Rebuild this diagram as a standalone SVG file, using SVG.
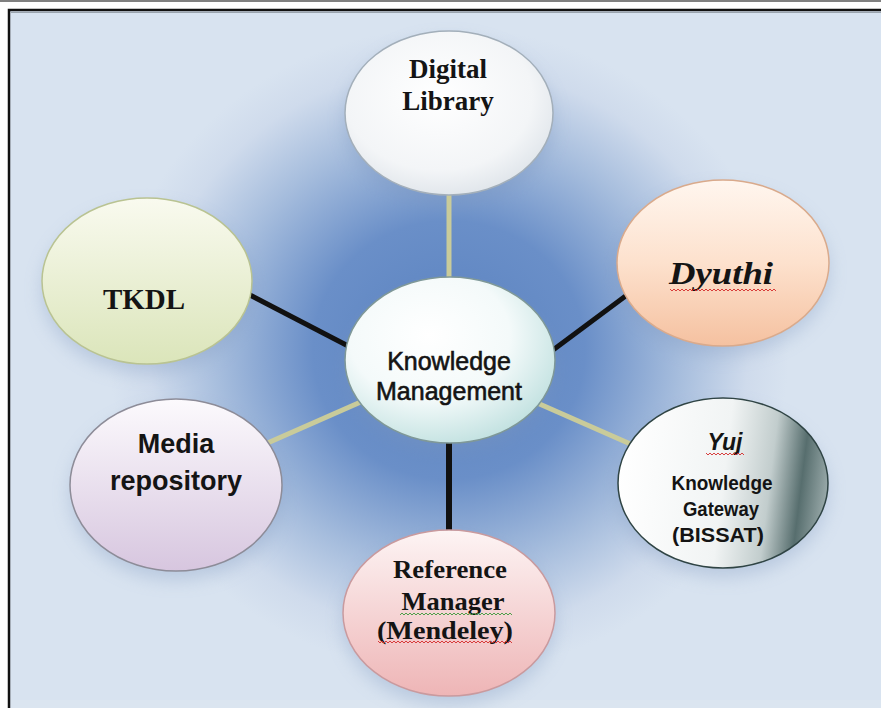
<svg xmlns="http://www.w3.org/2000/svg" width="881" height="708" viewBox="0 0 881 708">
<defs>
<radialGradient id="bg" gradientUnits="userSpaceOnUse" cx="449" cy="350" r="340" gradientTransform="translate(449 350) scale(1 0.95) translate(-449 -350)">
<stop offset="0" stop-color="#5a82c0"/>
<stop offset="0.4" stop-color="#6a8fc8"/>
<stop offset="0.68" stop-color="#a6bddd"/>
<stop offset="0.88" stop-color="#cfdbec"/>
<stop offset="1" stop-color="#d8e3f0"/>
</radialGradient>
<radialGradient id="gDL" cx="0.45" cy="0.4" r="0.6">
<stop offset="0" stop-color="#ffffff"/>
<stop offset="0.75" stop-color="#f3f5f7"/>
<stop offset="1" stop-color="#e2e7ec"/>
</radialGradient>
<radialGradient id="gKM" cx="0.4" cy="0.35" r="0.7">
<stop offset="0" stop-color="#ffffff"/>
<stop offset="0.55" stop-color="#f4fafa"/>
<stop offset="1" stop-color="#bfe0df"/>
</radialGradient>
<linearGradient id="gTK" x1="0" y1="0" x2="0" y2="1">
<stop offset="0" stop-color="#f9faef"/>
<stop offset="1" stop-color="#dbe5ba"/>
</linearGradient>
<linearGradient id="gDY" x1="0" y1="0" x2="0" y2="1">
<stop offset="0" stop-color="#fff6ef"/>
<stop offset="0.5" stop-color="#fde1cd"/>
<stop offset="1" stop-color="#f5c1a0"/>
</linearGradient>
<linearGradient id="gMD" x1="0" y1="0" x2="0" y2="1">
<stop offset="0" stop-color="#fcfafd"/>
<stop offset="1" stop-color="#d7c6df"/>
</linearGradient>
<linearGradient id="gYJ" x1="0" y1="0.45" x2="1" y2="0.55">
<stop offset="0" stop-color="#ffffff"/>
<stop offset="0.5" stop-color="#f1f4f4"/>
<stop offset="0.72" stop-color="#c2cdcd"/>
<stop offset="0.87" stop-color="#576e6e"/>
<stop offset="1" stop-color="#9aaaaa"/>
</linearGradient>
<linearGradient id="gRF" x1="0" y1="0" x2="0" y2="1">
<stop offset="0" stop-color="#fdf4f4"/>
<stop offset="1" stop-color="#eeb5b6"/>
</linearGradient>
<filter id="sh" x="-30%" y="-30%" width="160%" height="160%">
<feGaussianBlur stdDeviation="9"/>
</filter>
<pattern id="wr" width="4" height="4" patternUnits="userSpaceOnUse">
<path d="M0 3 L2 1 L4 3" fill="none" stroke="#d42a2a" stroke-width="0.9"/>
</pattern>
<pattern id="wg" width="4" height="4" patternUnits="userSpaceOnUse">
<path d="M0 3 L2 1 L4 3" fill="none" stroke="#3a9a3a" stroke-width="0.9"/>
</pattern>
</defs>
<style>
.node{stroke-width:1.5}
.shadow{fill:#7f98bf;opacity:0.35;filter:url(#sh)}
.serif{font-family:"Liberation Serif","Times New Roman",serif;font-weight:bold;fill:#141414;text-anchor:middle}
.sans{font-family:"Liberation Sans",Arial,sans-serif;fill:#141414;text-anchor:middle}
.thick{stroke:#141414;stroke-width:0.6}
.tan{stroke:#c9cb9a;stroke-width:5;stroke-linecap:butt}
.blk{stroke:#111111;stroke-width:5;stroke-linecap:butt}
</style>

<rect x="0" y="0" width="881" height="708" fill="#ffffff"/>
<line x1="0" y1="1" x2="881" y2="1" stroke="#808080" stroke-width="2"/>
<rect x="9" y="10" width="900" height="720" fill="#d8e3f0"/>
<rect x="9" y="10" width="900" height="720" fill="url(#bg)"/>
<rect x="9" y="700" width="872" height="8" fill="#dde6f0" opacity="0.7"/>
<rect x="9" y="10" width="900" height="720" fill="none" stroke="#111111" stroke-width="2.5"/>
<line x1="11" y1="12.5" x2="881" y2="12.5" stroke="#9aa4ae" stroke-width="1"/>

<g id="shadows">
<ellipse class="shadow" cx="449" cy="122" rx="104" ry="82"/>
<ellipse class="shadow" cx="450" cy="369" rx="105" ry="83"/>
<ellipse class="shadow" cx="147" cy="290" rx="105" ry="83"/>
<ellipse class="shadow" cx="723" cy="272" rx="106" ry="83"/>
<ellipse class="shadow" cx="176" cy="494" rx="106" ry="86"/>
<ellipse class="shadow" cx="723" cy="492" rx="105" ry="85"/>
<ellipse class="shadow" cx="449" cy="622" rx="106" ry="83"/>
</g>

<g id="connectors">
<line class="tan" x1="449" y1="190" x2="449" y2="282"/>
<line class="blk" x1="246" y1="293" x2="352" y2="348"/>
<line class="blk" x1="635" y1="289" x2="549" y2="353"/>
<line class="tan" x1="263" y1="445" x2="363" y2="401"/>
<line class="tan" x1="535" y1="402" x2="635" y2="446"/>
<line class="blk" x1="449" y1="438" x2="449" y2="536" style="stroke-width:6"/>
</g>

<g id="node-digital-library">
<ellipse class="node" cx="449" cy="113" rx="104" ry="82" fill="url(#gDL)" stroke="#a3afba"/>
<text class="serif" x="448" y="78" font-size="27">Digital</text>
<text class="serif" x="448" y="110" font-size="27">Library</text>
</g>

<g id="node-knowledge-management">
<ellipse class="node" cx="450" cy="360" rx="105" ry="83" fill="url(#gKM)" stroke="#7f9898"/>
<text class="sans thick" x="449" y="370" font-size="25">Knowledge</text>
<text class="sans thick" x="449" y="400" font-size="25">Management</text>
</g>

<g id="node-tkdl">
<ellipse class="node" cx="147" cy="281" rx="105" ry="83" fill="url(#gTK)" stroke="#b9c392"/>
<text class="serif" x="144" y="309" font-size="29">TKDL</text>
</g>

<g id="node-dyuthi">
<ellipse class="node" cx="723" cy="263" rx="106" ry="83" fill="url(#gDY)" stroke="#d9aa8c"/>
<text class="serif" x="721" y="284" font-size="32" font-style="italic" textLength="104" lengthAdjust="spacingAndGlyphs">Dyuthi</text>
<rect x="670" y="288" width="106" height="4" fill="url(#wr)"/>
</g>

<g id="node-media-repository">
<ellipse class="node" cx="176" cy="485" rx="106" ry="86" fill="url(#gMD)" stroke="#8d8c98"/>
<text class="sans" x="176" y="453" font-size="27" font-weight="bold">Media</text>
<text class="sans" x="176" y="490" font-size="27" font-weight="bold">repository</text>
</g>

<g id="node-yuj">
<ellipse class="node" cx="723" cy="483" rx="105" ry="85" fill="url(#gYJ)" stroke="#2f4444"/>
<text class="sans" x="725" y="450" font-size="23" font-weight="bold" font-style="italic">Yuj</text>
<rect x="706" y="452" width="38" height="4" fill="url(#wr)"/>
<text class="sans" x="722" y="490" font-size="20" font-weight="bold" textLength="101" lengthAdjust="spacingAndGlyphs">Knowledge</text>
<text class="sans" x="721" y="516" font-size="20" font-weight="bold" textLength="76" lengthAdjust="spacingAndGlyphs">Gateway</text>
<text class="sans" x="718" y="542" font-size="20" font-weight="bold" textLength="92" lengthAdjust="spacingAndGlyphs">(BISSAT)</text>
</g>

<g id="node-reference-manager">
<ellipse class="node" cx="449" cy="613" rx="106" ry="83" fill="url(#gRF)" stroke="#c99a9e"/>
<text class="serif" x="450" y="578" font-size="25" textLength="114" lengthAdjust="spacingAndGlyphs">Reference</text>
<text class="serif" x="453" y="610" font-size="25" textLength="103" lengthAdjust="spacingAndGlyphs">Manager</text>
<rect x="400" y="612" width="112" height="4" fill="url(#wg)"/>
<text class="serif" x="445" y="639" font-size="25" textLength="136" lengthAdjust="spacingAndGlyphs">(Mendeley)</text>
<rect x="378" y="640" width="134" height="4" fill="url(#wr)"/>
</g>
</svg>
